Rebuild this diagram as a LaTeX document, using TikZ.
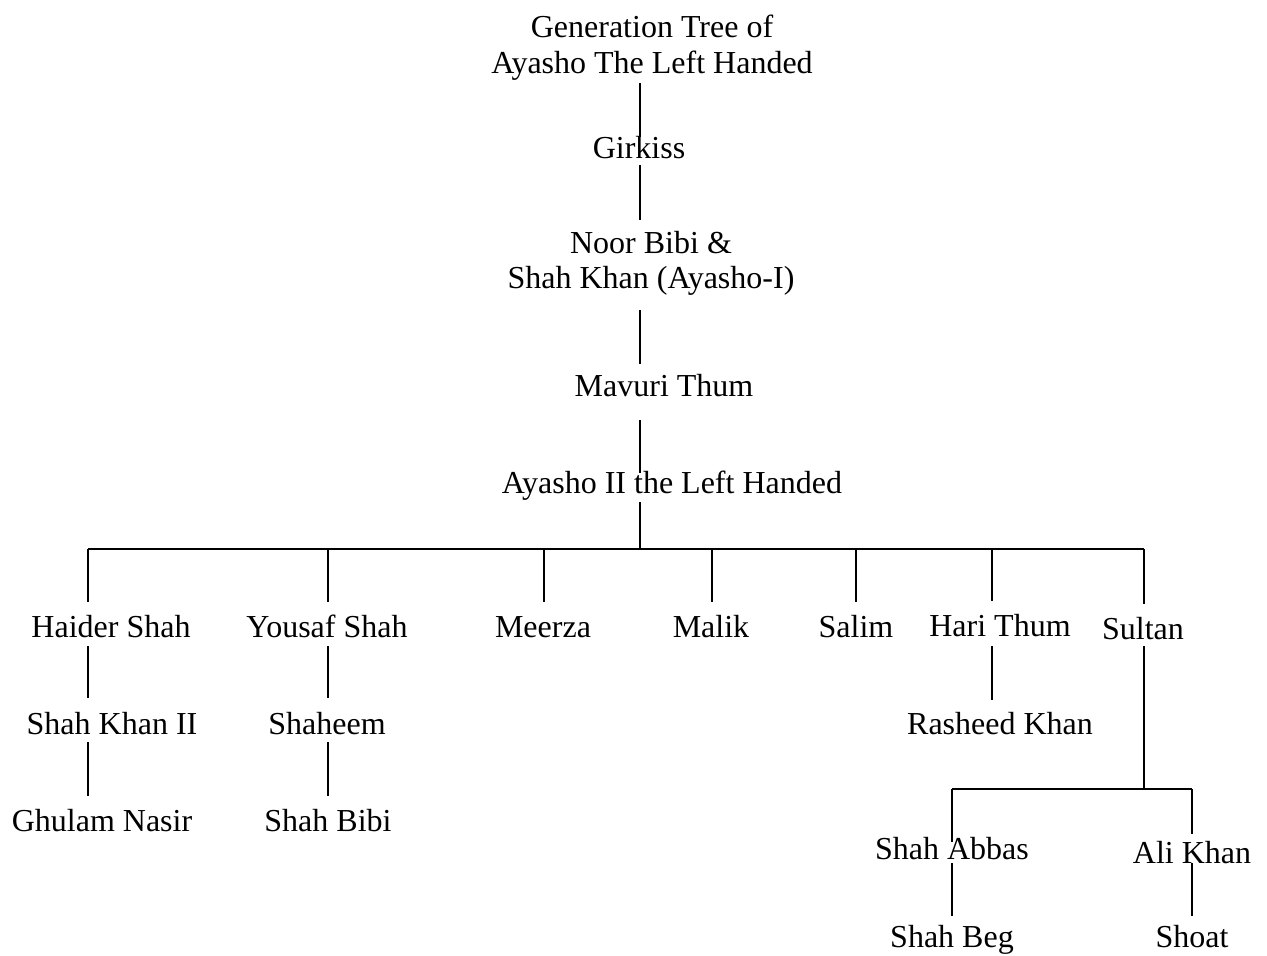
\documentclass[tikz,border=0pt]{standalone}
\usepackage{fontspec}
\setmainfont{Liberation Serif}
\usetikzlibrary{positioning, calc}

\tikzset{
  person/.style={anchor=base, inner sep=0pt, text height=0.66em, text depth=0pt,
                 font=\fontsize{16}{19}\selectfont},
  link/.style={line width=0.9pt},
}

\begin{document}
\begin{tikzpicture}[x=0.5pt, y=-0.5pt]
    \useasboundingbox (0,0) rectangle (1267,955);
    \coordinate (spine) at (640,0);
    % main line of descent
    \node[person] (title1) at (652,37) {Generation Tree of};
    \node[person] (title2) at (652,73) {Ayasho The Left Handed};
    \node[person] (girkiss) at (639,158) {Girkiss};
    \node[person] (noor) at (651,253) {Noor Bibi \&};
    \node[person] (shahkhan) at (651,288) {Shah Khan (Ayasho-I)};
    \node[person] (mavuri) at (664,396) {Mavuri Thum};
    \node[person] (ayasho) at (672,493) {Ayasho II the Left Handed};
    \foreach \a/\b/\s/\e in {title2/girkiss/5pt/3.5pt, girkiss/noor/3.5pt/9.5pt,
                             shahkhan/mavuri/11pt/9pt, mavuri/ayasho/12pt/3pt}{
    \draw[link, shorten <=\s, shorten >=\e] (spine |- \a.south) -- (spine |- \b.north);
    }
    % sons of Ayasho II
    \node[person] (haider) at (111,637) {Haider Shah};
    \node[person] (yousaf) at (327,637) {Yousaf Shah};
    \node[person] (meerza) at (543,637) {Meerza};
    \node[person] (malik) at (711,637) {Malik};
    \node[person] (salim) at (856,637) {Salim};
    \node[person] (hari) at (1000,636) {Hari Thum};
    \node[person] (sultan) at (1143,639) {Sultan};
    \coordinate (bus) at (640,549);
    \draw[link, shorten <=4.5pt] (spine |- ayasho.south) -- (bus);
    \draw[link] ([xshift=-11.5pt]haider.north |- bus) -- ([xshift=0.5pt]sultan.north |- bus);
    \foreach \n/\dx in {haider/-11.5pt, yousaf/0.5pt, meerza/0.5pt, malik/0.5pt,
                        salim/0pt, hari/-4pt, sultan/0.5pt}{
    \draw[link, shorten >=10.5pt] ([xshift=\dx]\n.north |- bus) -- ([xshift=\dx]\n.north);
    }
    % later generations
    \node[person] (shahkhanii) at (112,734) {Shah Khan II};
    \node[person] (ghulam) at (102,831) {Ghulam Nasir};
    \node[person] (shaheem) at (327,734) {Shaheem};
    \node[person] (shahbibi) at (328,831) {Shah Bibi};
    \node[person] (rasheed) at (1000,734) {Rasheed Khan};
    \node[person] (abbas) at (952,859) {Shah Abbas};
    \node[person] (alikhan) at (1192,863) {Ali Khan};
    \node[person] (shahbeg) at (952,947) {Shah Beg};
    \node[person] (shoat) at (1192,947) {Shoat};
    \foreach \a/\b/\dx/\s/\e in {haider/shahkhanii/-11.5pt/4.5pt/11pt,
                                 shahkhanii/ghulam/-12pt/4pt/10.5pt,
                                 yousaf/shaheem/0.5pt/4.5pt/11pt,
                                 shaheem/shahbibi/0.5pt/4pt/10.5pt,
                                 hari/rasheed/-4pt/5pt/10pt,
                                 abbas/shahbeg/0pt/2pt/8.5pt,
                                 alikhan/shoat/0pt/0pt/8.5pt}{
    \draw[link, shorten <=\s, shorten >=\e] ([xshift=\dx]\a.south) -- ([xshift=\dx]\a.south |- \b.north);
    }
    % sons of Sultan
    \coordinate (subbus) at (1144,789);
    \draw[link, shorten <=3.5pt] ([xshift=0.5pt]sultan.south) -- (subbus);
    \draw[link] (abbas.north |- subbus) -- (alikhan.north |- subbus);
    \draw[link, shorten >=1.5pt] (abbas.north |- subbus) -- (abbas.north);
    \draw[link, shorten >=7.5pt] (alikhan.north |- subbus) -- (alikhan.north);
\end{tikzpicture}
\end{document}
